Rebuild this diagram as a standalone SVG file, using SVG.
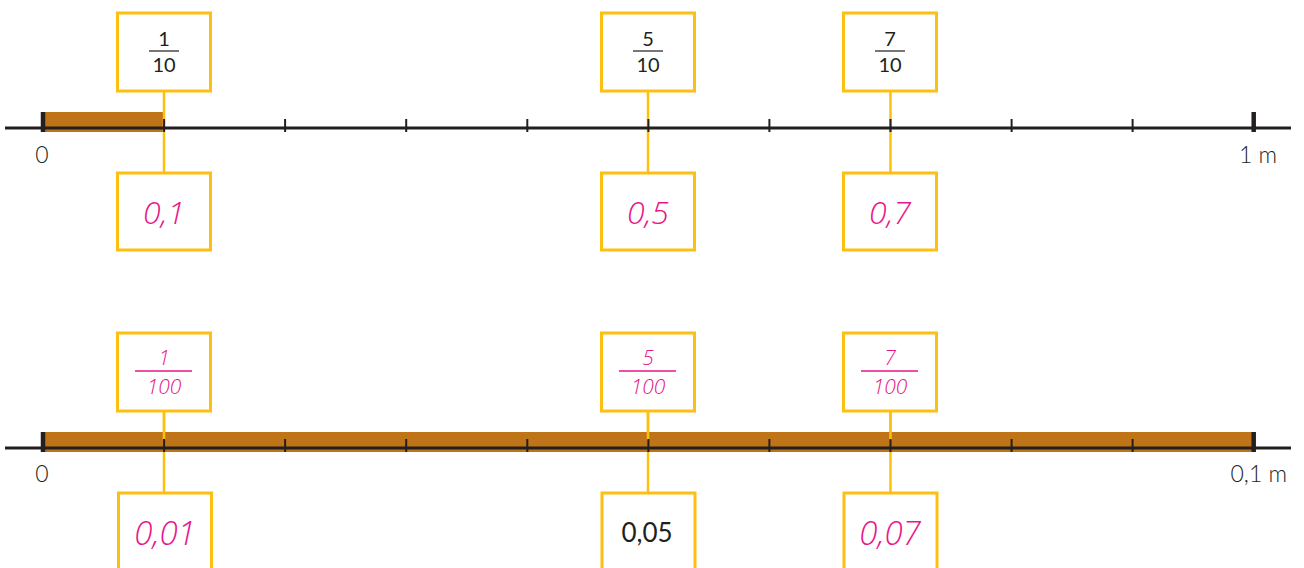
<svg xmlns="http://www.w3.org/2000/svg" width="1304" height="568" viewBox="0 0 1304 568">
<style>
.box{fill:#fff;stroke:#FDC010;stroke-width:3}
.con{stroke:#FDC010;stroke-width:2.5;fill:none}
.axis{stroke:#231F20;stroke-width:3}
.tick{stroke:#231F20;stroke-width:2}
.end{stroke:#231F20;stroke-width:4.5}
.bar{fill:#BE7417}
.lbl{font-family:Lato,"Open Sans","Liberation Sans",sans-serif;font-weight:300;font-size:23px;fill:#231F20}
.frac{font-family:Lato,"Open Sans","Liberation Sans",sans-serif;font-size:20px;fill:#231F20;text-anchor:middle}
.fline{stroke:#555;stroke-width:1.6}
.pk{font-family:"Open Sans","Liberation Sans",sans-serif;font-style:italic;font-weight:300;fill:#E8168A;text-anchor:middle}
.pfrac{font-size:21px}
.pline{stroke:#E8168A;stroke-width:1.6}
.dec{font-size:32px}
.dec2{font-size:33px}
.blk{font-family:Lato,"Open Sans","Liberation Sans",sans-serif;font-size:26px;fill:#231F20;text-anchor:middle}
</style>

<!-- Row 1 -->
<rect class="bar" x="43" y="112" width="121" height="20"/>
<g id="connectors">
  <line class="con" x1="164" y1="91" x2="164" y2="173"/>
  <line class="con" x1="648" y1="91" x2="648" y2="173"/>
  <line class="con" x1="890.5" y1="91" x2="890.5" y2="173"/>
  <line class="con" x1="164" y1="411" x2="164" y2="493"/>
  <line class="con" x1="648" y1="411" x2="648" y2="493"/>
  <line class="con" x1="890.5" y1="411" x2="890.5" y2="493"/>
</g>
<g id="axis1">
  <line class="axis" x1="5" y1="128" x2="1291" y2="128"/>
  <line class="end" x1="43" y1="112" x2="43" y2="132"/>
  <line class="end" x1="1253.7" y1="112" x2="1253.7" y2="132"/>
  <g class="tick">
    <line x1="164.1" y1="119" x2="164.1" y2="132"/>
    <line x1="285.1" y1="119" x2="285.1" y2="132"/>
    <line x1="406.2" y1="119" x2="406.2" y2="132"/>
    <line x1="527.3" y1="119" x2="527.3" y2="132"/>
    <line x1="648.4" y1="119" x2="648.4" y2="132"/>
    <line x1="769.4" y1="119" x2="769.4" y2="132"/>
    <line x1="890.5" y1="119" x2="890.5" y2="132"/>
    <line x1="1011.6" y1="119" x2="1011.6" y2="132"/>
    <line x1="1132.6" y1="119" x2="1132.6" y2="132"/>
  </g>
  <text class="lbl" x="42" y="163" text-anchor="middle">0</text>
  <text class="lbl" x="1277" y="163" text-anchor="end">1 m</text>
</g>

<g id="n1">
  <rect class="box" x="117.5" y="13" width="93" height="78"/>
  <text class="frac" x="164" y="46">1</text>
  <line class="fline" x1="149" y1="51" x2="179" y2="51"/>
  <text class="frac" x="164" y="72">10</text>
</g>
<g id="n5">
  <rect class="box" x="601.5" y="13" width="93" height="78"/>
  <text class="frac" x="648" y="46">5</text>
  <line class="fline" x1="633" y1="51" x2="663" y2="51"/>
  <text class="frac" x="648" y="72">10</text>
</g>
<g id="n7">
  <rect class="box" x="843.5" y="13" width="93" height="78"/>
  <text class="frac" x="890" y="46">7</text>
  <line class="fline" x1="875" y1="51" x2="905" y2="51"/>
  <text class="frac" x="890" y="72">10</text>
</g>
<g id="d1">
  <rect class="box" x="117.5" y="173" width="93" height="77"/>
  <text class="pk dec" x="164" y="224">0,1</text>
</g>
<g id="d5">
  <rect class="box" x="601.5" y="173" width="93" height="77"/>
  <text class="pk dec" x="648" y="224">0,5</text>
</g>
<g id="d7">
  <rect class="box" x="843.5" y="173" width="93" height="77"/>
  <text class="pk dec" x="890" y="224">0,7</text>
</g>

<!-- Row 2 -->
<rect class="bar" x="43" y="432" width="1211" height="20"/>
<g id="connectors2">
  <line class="con" x1="164" y1="411" x2="164" y2="440"/>
  <line class="con" x1="648" y1="411" x2="648" y2="440"/>
  <line class="con" x1="890.5" y1="411" x2="890.5" y2="440"/>
</g>
<g id="axis2">
  <line class="axis" x1="5" y1="448" x2="1291" y2="448"/>
  <line class="end" x1="43" y1="432" x2="43" y2="452"/>
  <line class="end" x1="1253.7" y1="432" x2="1253.7" y2="452"/>
  <g class="tick">
    <line x1="164.1" y1="439" x2="164.1" y2="452"/>
    <line x1="285.1" y1="439" x2="285.1" y2="452"/>
    <line x1="406.2" y1="439" x2="406.2" y2="452"/>
    <line x1="527.3" y1="439" x2="527.3" y2="452"/>
    <line x1="648.4" y1="439" x2="648.4" y2="452"/>
    <line x1="769.4" y1="439" x2="769.4" y2="452"/>
    <line x1="890.5" y1="439" x2="890.5" y2="452"/>
    <line x1="1011.6" y1="439" x2="1011.6" y2="452"/>
    <line x1="1132.6" y1="439" x2="1132.6" y2="452"/>
  </g>
  <text class="lbl" x="42" y="482" text-anchor="middle">0</text>
  <text class="lbl" x="1287" y="482" text-anchor="end">0,1 m</text>
</g>

<g id="n100_1">
  <rect class="box" x="117.5" y="333" width="93" height="78"/>
  <text class="pk pfrac" x="164" y="364.5">1</text>
  <line class="pline" x1="135" y1="371" x2="192" y2="371"/>
  <text class="pk pfrac" x="164" y="394">100</text>
</g>
<g id="n100_5">
  <rect class="box" x="601.5" y="333" width="93" height="78"/>
  <text class="pk pfrac" x="648" y="364.5">5</text>
  <line class="pline" x1="619" y1="371" x2="676" y2="371"/>
  <text class="pk pfrac" x="648" y="394">100</text>
</g>
<g id="n100_7">
  <rect class="box" x="843.5" y="333" width="93" height="78"/>
  <text class="pk pfrac" x="890" y="364.5">7</text>
  <line class="pline" x1="861" y1="371" x2="918" y2="371"/>
  <text class="pk pfrac" x="890" y="394">100</text>
</g>
<g id="d01">
  <rect class="box" x="118.5" y="493" width="93" height="90"/>
  <text class="pk dec2" x="165" y="545">0,01</text>
</g>
<g id="d05">
  <rect class="box" x="602" y="493" width="93" height="90"/>
  <text class="blk" x="647" y="542">0,05</text>
</g>
<g id="d07">
  <rect class="box" x="844" y="493" width="93" height="90"/>
  <text class="pk dec2" x="890" y="545">0,07</text>
</g>
</svg>
